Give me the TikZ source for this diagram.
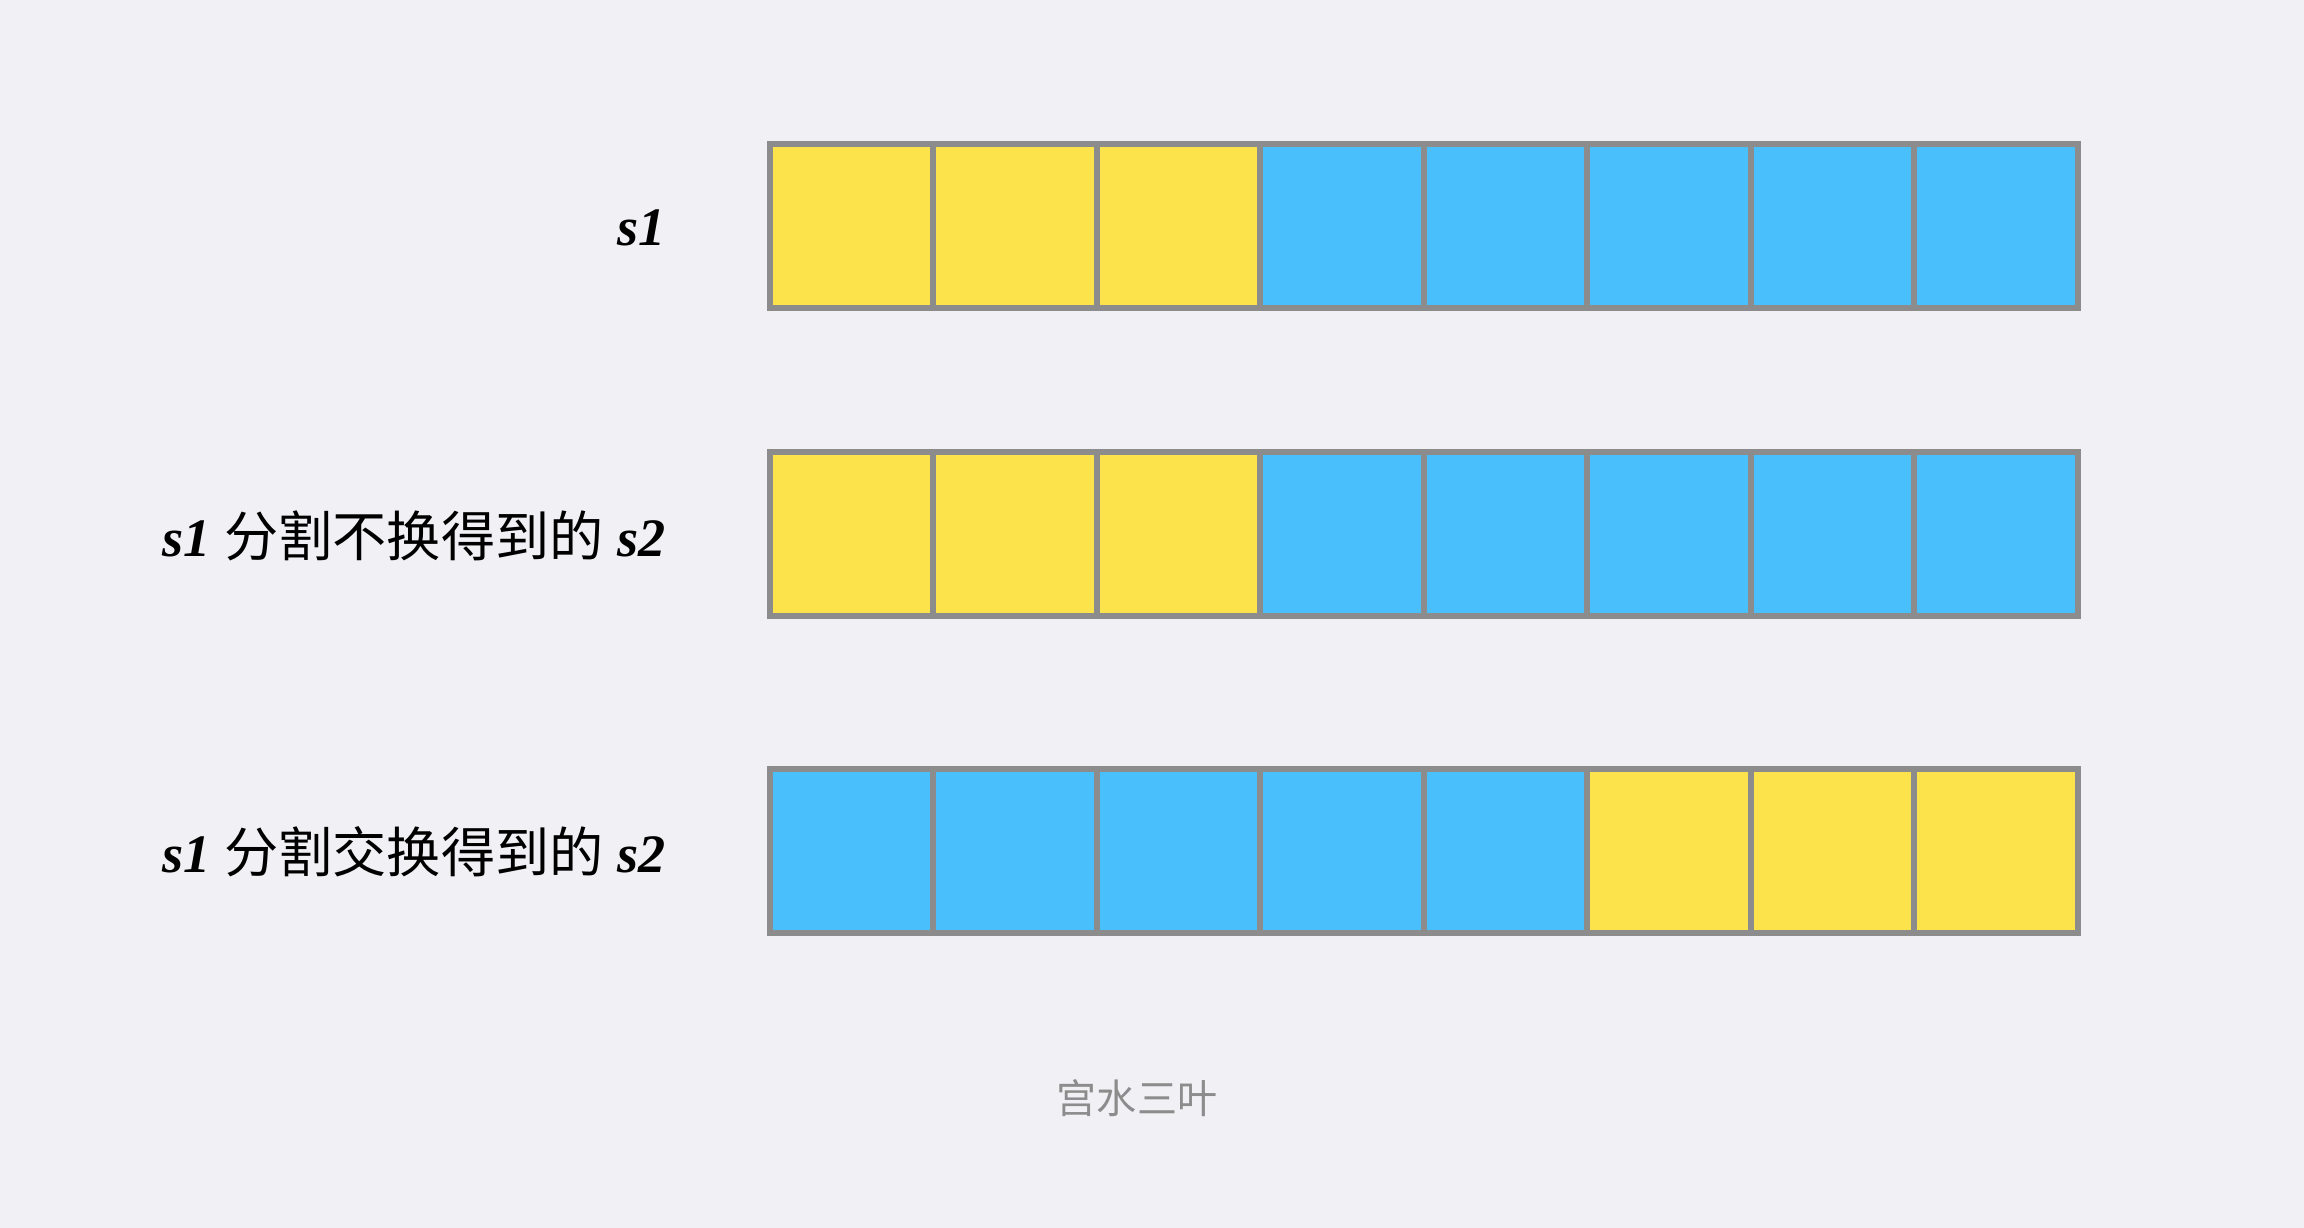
\documentclass[tikz,border=0pt]{standalone}
\usepackage{fontspec}
\setmainfont{Liberation Serif}
\newfontfamily\cjk{Noto Sans CJK SC}
\definecolor{bgc}{RGB}{240,240,245}
\definecolor{ycell}{RGB}{252,227,76}
\definecolor{bcell}{RGB}{73,192,252}
\definecolor{edgec}{RGB}{140,140,140}
\tikzset{
  cellbox/.style={draw=edgec, line width=0.06cm, rectangle, minimum width=1.635cm, minimum height=1.635cm, inner sep=0pt, outer sep=0pt},
  ycellbox/.style={cellbox, fill=ycell},
  bcellbox/.style={cellbox, fill=bcell},
  rowlabel/.style={anchor=east, inner sep=0pt, font=\fontsize{15.4pt}{18pt}\selectfont, text=black},
  mark/.style={}
}
\begin{document}
\begin{tikzpicture}[x=0.01cm, y=-0.01cm]
\fill[bgc] (0,0) rectangle (2304,1228);
\useasboundingbox (0,0) rectangle (2304,1228);
% row 1
\foreach \i/\c in {1/y,2/y,3/y,4/b,5/b,6/b,7/b,8/b}{
  \node[\c cellbox] (ra\i) at ({770+163.5*(\i-0.5)},226) {};
}
% row 2
\foreach \i/\c in {1/y,2/y,3/y,4/b,5/b,6/b,7/b,8/b}{
  \node[\c cellbox] (rb\i) at ({770+163.5*(\i-0.5)},534) {};
}
% row 3
\foreach \i/\c in {1/b,2/b,3/b,4/b,5/b,6/y,7/y,8/y}{
  \node[\c cellbox] (rc\i) at ({770+163.5*(\i-0.5)},851) {};
}
\node[rowlabel] (la) at (666,228) {\textbf{\textit{s1}}};
\node[rowlabel] (lb) at (666,536) {\textbf{\textit{s1}} {\cjk 分割不换得到的} \textbf{\textit{s2}}};
\node[rowlabel] (lc) at (666,852) {\textbf{\textit{s1}} {\cjk 分割交换得到的} \textbf{\textit{s2}}};
\node[inner sep=0pt, text=edgec, font=\cjk\fontsize{11.4pt}{14pt}\selectfont] (wm) at (1137,1098) {宫水三叶};
\end{tikzpicture}
\end{document}
